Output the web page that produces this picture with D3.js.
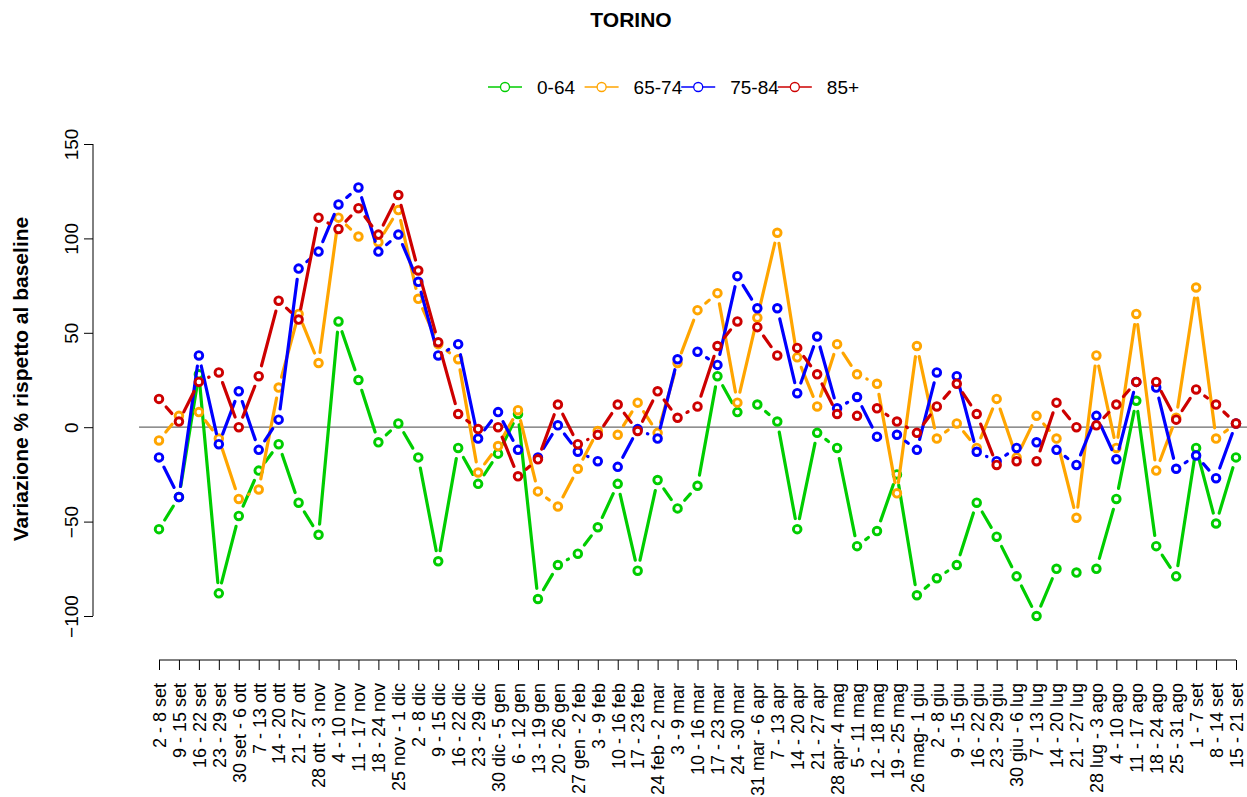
<!DOCTYPE html>
<html>
<head>
<meta charset="utf-8">
<script src="https://cdn.jsdelivr.net/npm/d3@7"></script>
<style>
  body { margin: 0; background: #fff; }
  svg { display: block; font-family: "Liberation Sans", Arial, sans-serif; }
</style>
</head>
<body>
<svg id="chart" width="1247" height="797"></svg>
<script>
// Weekly periods (Sept 2020 – Sept 2021)
const weeks = [
  "2 - 8 set", "9 - 15 set", "16 - 22 set", "23 - 29 set", "30 set - 6 ott",
  "7 - 13 ott", "14 - 20 ott", "21 - 27 ott", "28 ott - 3 nov", "4 - 10 nov",
  "11 - 17 nov", "18 - 24 nov", "25 nov - 1 dic", "2 - 8 dic", "9 - 15 dic",
  "16 - 22 dic", "23 - 29 dic", "30 dic - 5 gen", "6 - 12 gen", "13 - 19 gen",
  "20 - 26 gen", "27 gen - 2 feb", "3 - 9 feb", "10 - 16 feb", "17 - 23 feb",
  "24 feb - 2 mar", "3 - 9 mar", "10 - 16 mar", "17 - 23 mar", "24 - 30 mar",
  "31 mar - 6 apr", "7 - 13 apr", "14 - 20 apr", "21 - 27 apr", "28 apr- 4 mag",
  "5 - 11 mag", "12 - 18 mag", "19 - 25 mag", "26 mag- 1 giu", "2 - 8 giu",
  "9 - 15 giu", "16 - 22 giu", "23 - 29 giu", "30 giu - 6 lug", "7 - 13 lug",
  "14 - 20 lug", "21 - 27 lug", "28 lug - 3 ago", "4 - 10 ago", "11 - 17 ago",
  "18 - 24 ago", "25 - 31 ago", "1 - 7 set", "8 - 14 set", "15 - 21 set"
];

// Percentage change vs baseline, by age group
const age0_64 = [-54, -37, 28, -88, -47, -23, -9, -40, -57, 56, 25, -8, 2, -16, -71, -11, -30, -14, 7, -91,
  -73, -67, -53, -30, -76, -28, -43, -31, 27, 8, 12, 3, -54, -3, -11, -63, -55, -25, -89, -80,
  -73, -40, -58, -79, -100, -75, -77, -75, -38, 14, -63, -79, -11, -51, -16];
const age65_74 = [-7, 6, 8, -6, -38, -33, 21, 60, 34, 111, 101, 98, 115, 68, 44, 36, -24, -10, 9, -34,
  -42, -22, -2, -4, 13, -3, 34, 62, 71, 13, 58, 103, 37, 11, 44, 28, 23, -35, 43, -6,
  2, -11, 15, -16, 6, -6, -48, 38, -11, 60, -23, 5, 74, -6, 2];
const age75_84 = [-16, -37, 38, -9, 19, -12, 4, 84, 93, 118, 127, 93, 102, 77, 38, 44, -6, 8, -12, -16,
  1, -13, -18, -21, -1, -6, 36, 40, 33, 80, 63, 63, 18, 48, 10, 16, -5, -4, -12, 29,
  27, -13, -18, -11, -8, -12, -20, 6, -17, 24, 21, -22, -15, -27, 2];
const age85plus = [15, 3, 24, 29, 0, 27, 67, 57, 111, 105, 116, 102, 123, 83, 45, 7, -1, 0, -26, -17,
  12, -9, -4, 12, -2, 19, 5, 11, 43, 56, 53, 38, 42, 28, 7, 6, 10, 3, -3, 11,
  23, 7, -20, -18, -18, 13, 0, 1, 12, 24, 24, 4, 20, 12, 2];

const groupNames = ["0-64", "65-74", "75-84", "85+"];
const groupValues = [age0_64, age65_74, age75_84, age85plus];
const groupColors = ["#00CD00", "#FFA500", "#0000FF", "#CD0000"];
const yTicks = [-100, -50, 0, 50, 100, 150];

const svg = d3.select("#chart");
const W = 1247;

const x = d3.scalePoint().domain(weeks).range([159, 1236]);
const y = d3.scaleLinear().domain([-100, 150]).range([616, 144]);

// Title
svg.append("text")
  .attr("x", 631).attr("y", 27)
  .attr("text-anchor", "middle")
  .attr("font-size", 21).attr("font-weight", "bold")
  .text("TORINO");

// Reference line at zero
svg.append("line")
  .attr("x1", x(weeks[0]) - x.step()).attr("x2", W)
  .attr("y1", y(0)).attr("y2", y(0))
  .attr("stroke", "#6b6b6b").attr("stroke-width", 1.3);

// Y axis
const yAxis = svg.append("g").attr("transform", "translate(93,0)")
  .call(d3.axisLeft(y).tickValues(yTicks).tickSize(9).tickFormat(d3.format("d")));
yAxis.select(".domain").attr("stroke", "#000").attr("d", `M0,${y(-100)}V${y(150)}`);
yAxis.selectAll(".tick line").attr("stroke", "#000");
yAxis.selectAll(".tick text")
  .attr("font-size", 19).attr("font-family", "Liberation Sans, Arial, sans-serif")
  .attr("fill", "#000")
  .attr("x", null).attr("dy", null)
  .attr("text-anchor", "middle")
  .attr("transform", "translate(-15,0) rotate(-90)");

svg.append("text")
  .attr("transform", `translate(28,379) rotate(-90)`)
  .attr("text-anchor", "middle")
  .attr("font-size", 21).attr("font-weight", "bold")
  .text("Variazione % rispetto al baseline");

// X axis
const xAxis = svg.append("g").attr("transform", "translate(0,660)")
  .call(d3.axisBottom(x).tickSize(10).tickSizeOuter(0));
xAxis.select(".domain").attr("stroke", "#000").attr("d", `M${x(weeks[0])},0H${x(weeks[weeks.length - 1])}`);
xAxis.selectAll(".tick line").attr("stroke", "#000");
xAxis.selectAll(".tick text")
  .attr("font-size", 18).attr("font-family", "Liberation Sans, Arial, sans-serif")
  .attr("fill", "#000")
  .attr("y", null).attr("dy", "0.35em")
  .attr("text-anchor", "end")
  .attr("transform", "translate(0,23) rotate(-90)");

// Series: segments trimmed near each point, open circles on top
const gap = 10.8;
groupValues.forEach((vals, gi) => {
  const pts = vals.map((v, i) => [x(weeks[i]), y(v)]);
  const segs = [];
  for (let i = 1; i < pts.length; i++) {
    const [x0, y0] = pts[i - 1], [x1, y1] = pts[i];
    const len = Math.hypot(x1 - x0, y1 - y0);
    const f = gap / len;
    if (f < 0.5) {
      segs.push([x0 + f * (x1 - x0), y0 + f * (y1 - y0), x1 - f * (x1 - x0), y1 - f * (y1 - y0)]);
    }
  }
  const g = svg.append("g");
  g.selectAll("line").data(segs).join("line")
    .attr("x1", d => d[0]).attr("y1", d => d[1])
    .attr("x2", d => d[2]).attr("y2", d => d[3])
    .attr("stroke", groupColors[gi]).attr("stroke-width", 3.2)
    .attr("stroke-linecap", "round");
  g.selectAll("circle").data(vals).join("circle")
    .attr("cx", (d, i) => x(weeks[i])).attr("cy", d => y(d))
    .attr("r", 3.8)
    .attr("fill", "#fff")
    .attr("stroke", groupColors[gi]).attr("stroke-width", 2.9);
});

// Legend
const legend = svg.append("g").attr("font-size", 19);
const probe = legend.append("text").attr("visibility", "hidden");
const maxW = d3.max(groupNames, n => { probe.text(n); return probe.node().getComputedTextLength(); });
probe.remove();
const colW = 48 + maxW;
groupNames.forEach((name, i) => {
  const x0 = 488 + i * colW;
  const item = legend.append("g").attr("transform", `translate(${x0},87)`);
  item.append("line").attr("x1", 0).attr("x2", 34).attr("y1", 0).attr("y2", 0)
    .attr("stroke", groupColors[i]).attr("stroke-width", 1.3);
  item.append("circle").attr("cx", 17).attr("cy", 0).attr("r", 4.5)
    .attr("fill", "#fff").attr("stroke", groupColors[i]).attr("stroke-width", 1.3);
  item.append("text").attr("x", 49).attr("y", 0).attr("dy", "0.35em").text(name);
});
</script>
</body>
</html>
